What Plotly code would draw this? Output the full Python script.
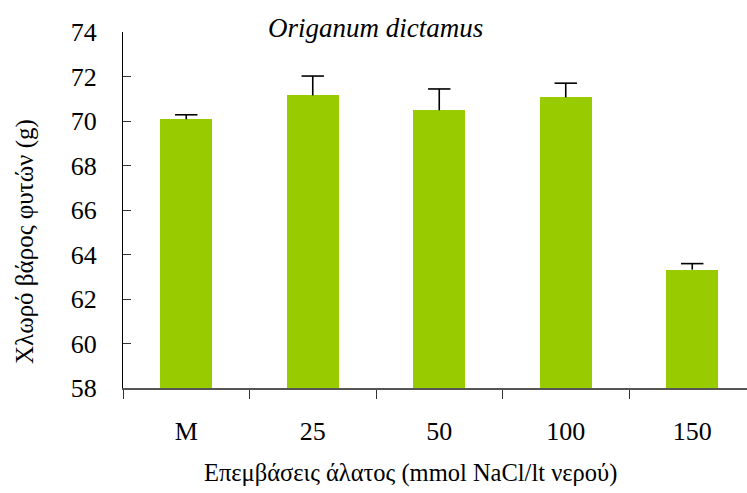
import plotly.graph_objects as go

categories = ["M", "25", "50", "100", "150"]
values = [70.08, 71.15, 70.48, 71.06, 63.32]
errors = [0.2, 0.87, 0.96, 0.64, 0.27]
title_text = "Origanum dictamus"
x_title = "Επεμβάσεις άλατος (mmol NaCl/lt νερού)"
y_title = "Χλωρό βάρος φυτών (g)"

FONT = "Liberation Serif, Times New Roman, serif"
W, H = 747, 493
L, T, B = 123, 32, 105
cat_px = 126.5
x_max = -0.5 + (W - L) / cat_px

fig = go.Figure()
fig.add_trace(go.Bar(
    x=categories, y=values, width=0.41,
    marker=dict(color="#99CC00", line=dict(width=0)),
    showlegend=False, hoverinfo="x+y",
))
# error bars (upper only): stem from bar top to mean+err, cap marker at top
fig.add_trace(go.Scatter(
    x=categories, y=[v + e for v, e in zip(values, errors)],
    mode="markers",
    marker=dict(symbol="line-ew", size=16, line=dict(width=1.6, color="black"), color="black"),
    error_y=dict(type="data", symmetric=False, array=[0] * len(errors), arrayminus=errors,
                 width=0, thickness=1.6, color="black"),
    showlegend=False, hoverinfo="skip",
))

fig.update_layout(
    width=W, height=H,
    margin=dict(l=L, r=0, t=T, b=B),
    paper_bgcolor="white", plot_bgcolor="white",
    font=dict(family=FONT, size=26, color="black"),
    bargap=0,
    xaxis=dict(
        type="category", range=[-0.5, x_max], tickson="boundaries",
        ticks="outside", ticklen=9, tickwidth=1.2, tickcolor="#333333",
        showline=True, linecolor="#555555", linewidth=1.5,
        showgrid=False, zeroline=False,
        tickfont=dict(family=FONT, size=26, color="black"),
        ticklabelstandoff=19,
    ),
    yaxis=dict(
        range=[58, 74], dtick=2, tick0=58,
        ticks="inside", ticklen=8, tickwidth=1.2, tickcolor="#333333",
        showline=True, linecolor="black", linewidth=1.2,
        showgrid=False, zeroline=False,
        tickfont=dict(family=FONT, size=26, color="black"),
        ticklabelstandoff=20,
    ),
    annotations=[
        dict(text=title_text, xref="paper", yref="paper", x=(375 - L) / (W - L), y=(H - 28 - B) / (H - T - B),
             xanchor="center", yanchor="middle", showarrow=False,
             font=dict(family=FONT, size=27, color="black", style="italic")),
        dict(text=x_title, xref="paper", yref="paper", x=(410 - L) / (W - L), y=(H - 473 - B) / (H - T - B),
             xanchor="center", yanchor="middle", showarrow=False,
             font=dict(family=FONT, size=24.5, color="black")),
        dict(text=y_title, xref="paper", yref="paper", x=(25 - L) / (W - L), y=(H - 242 - B) / (H - T - B),
             xanchor="center", yanchor="middle", showarrow=False, textangle=-90,
             font=dict(family=FONT, size=25, color="black")),
    ],
)

fig.write_html("out.html")
